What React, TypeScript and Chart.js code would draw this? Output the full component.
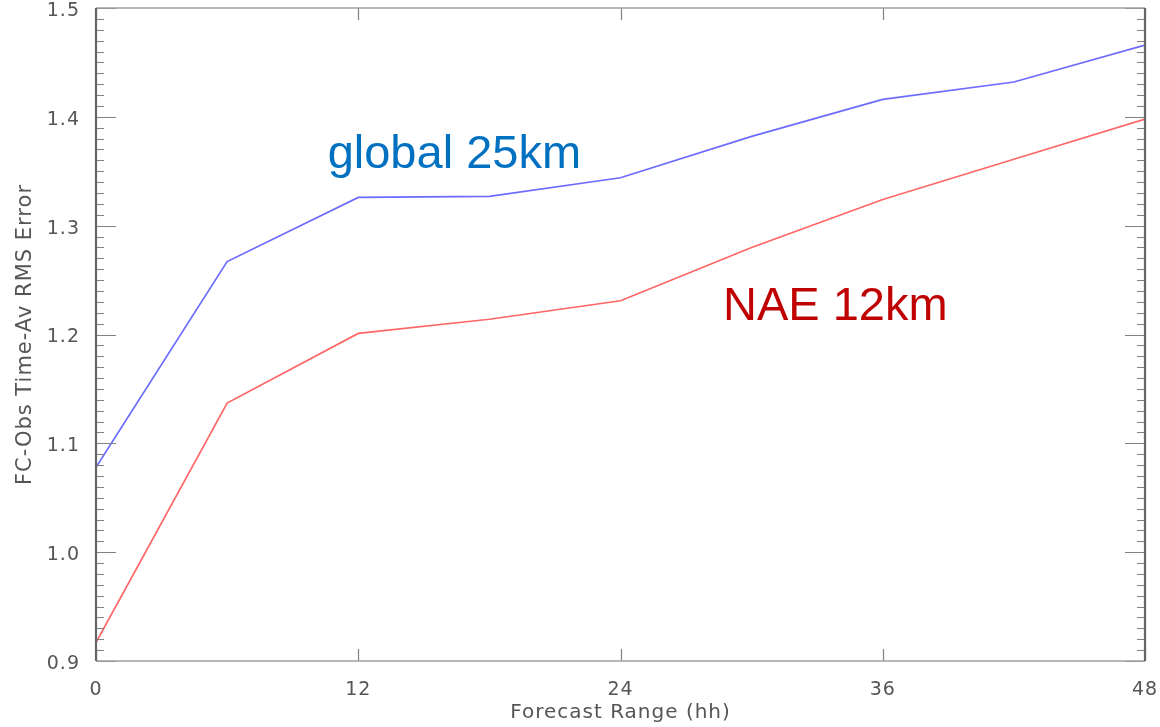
import React, { useEffect, useRef } from "react";
import { Chart, registerables } from "chart.js";

Chart.register(...registerables);

const hours = [0, 6, 12, 18, 24, 30, 36, 42, 48];
const globalRms = [1.078, 1.267, 1.326, 1.327, 1.344, 1.382, 1.416, 1.432, 1.466];
const naeRms = [0.917, 1.137, 1.201, 1.214, 1.231, 1.28, 1.324, 1.361, 1.398];
const xMajorTicks = [0, 12, 24, 36, 48];
const yMin = 0.9;
const yMax = 1.5;
const yLabelText = "FC-Obs Time-Av RMS Error";
const xLabelText = "Forecast Range (hh)";
const annotations = [
  { text: "global 25km", x: 10.6, y: 1.353, color: "#0070C0" },
  { text: "NAE 12km", x: 28.69, y: 1.2136, color: "#C00000" },
];

const framePlugin = {
  id: "idlFrame",
  beforeDraw(chart: any) {
    (chart.ctx as any).letterSpacing = "1px";
  },
  afterDraw(chart: any) {
    const ctx = chart.ctx as CanvasRenderingContext2D;
    const { left, right, top, bottom } = chart.chartArea;
    const xs = chart.scales.x;
    const ys = chart.scales.y;
    ctx.save();
    (ctx as any).letterSpacing = "0px";
    ctx.strokeStyle = "#808080";
    ctx.lineWidth = 1.2;
    const n = Math.round((yMax - yMin) / 0.01);
    for (let i = 0; i <= n; i++) {
      const v = yMin + i * 0.01;
      const py = Math.round(ys.getPixelForValue(v)) + 0.5;
      const len = i % 10 === 0 ? 20 : 8;
      ctx.beginPath();
      ctx.moveTo(left, py);
      ctx.lineTo(left + len, py);
      ctx.moveTo(right, py);
      ctx.lineTo(right - len, py);
      ctx.stroke();
    }
    for (const t of xMajorTicks) {
      const px = Math.round(xs.getPixelForValue(t)) + 0.5;
      ctx.beginPath();
      ctx.moveTo(px, bottom);
      ctx.lineTo(px, bottom - 12);
      ctx.moveTo(px, top);
      ctx.lineTo(px, top + 12);
      ctx.stroke();
    }
    ctx.strokeStyle = "#a0a0a0";
    ctx.lineWidth = 1.5;
    ctx.beginPath();
    ctx.moveTo(left, top);
    ctx.lineTo(right, top);
    ctx.moveTo(left, bottom);
    ctx.lineTo(right, bottom);
    ctx.stroke();
    ctx.strokeStyle = "#666";
    ctx.lineWidth = 2.2;
    ctx.beginPath();
    ctx.moveTo(left, top);
    ctx.lineTo(left, bottom);
    ctx.moveTo(right, top);
    ctx.lineTo(right, bottom);
    ctx.stroke();
    ctx.font = '47px "Liberation Sans", Arial, sans-serif';
    ctx.textAlign = "left";
    ctx.textBaseline = "alphabetic";
    for (const a of annotations) {
      ctx.fillStyle = a.color;
      ctx.fillText(a.text, xs.getPixelForValue(a.x), ys.getPixelForValue(a.y));
    }
    ctx.restore();
  },
};

export default function App() {
  const ref = useRef<HTMLCanvasElement>(null);
  useEffect(() => {
    document.body.style.margin = "0";
    const chart = new Chart(ref.current!, {
      type: "line",
      data: {
        datasets: [
          {
            label: "global 25km",
            data: hours.map((h, i) => ({ x: h, y: globalRms[i] })),
            borderColor: "#6b6bff",
            borderWidth: 1.7,
            pointRadius: 0,
            tension: 0,
            fill: false,
          },
          {
            label: "NAE 12km",
            data: hours.map((h, i) => ({ x: h, y: naeRms[i] })),
            borderColor: "#ff6666",
            borderWidth: 1.7,
            pointRadius: 0,
            tension: 0,
            fill: false,
          },
        ],
      },
      options: {
        animation: false,
        responsive: false,
        devicePixelRatio: 1,
        layout: { padding: { top: 8, right: 15, left: 0, bottom: 0 }, autoPadding: false },
        plugins: { legend: { display: false }, tooltip: { enabled: false } },
        scales: {
          x: {
            type: "linear",
            min: 0,
            max: 48,
            grid: { display: false },
            border: { display: false },
            afterBuildTicks: (s: any) => {
              s.ticks = xMajorTicks.map((v) => ({ value: v }));
            },
            ticks: {
              padding: 10,
              color: "#555",
              font: { family: '"DejaVu Sans", sans-serif', size: 19 },
              maxRotation: 0,
              callback: (v: any) => String(v),
            },
            title: {
              display: true,
              text: xLabelText,
              color: "#555",
              font: { family: '"DejaVu Sans", sans-serif', size: 20 },
              padding: { top: 0, bottom: 2 },
            },
            afterFit: (s: any) => {
              s.height = 66;
              s.paddingLeft = 0;
              s.paddingRight = 0;
            },
          },
          y: {
            type: "linear",
            min: yMin,
            max: yMax,
            grid: { display: false },
            border: { display: false },
            ticks: {
              stepSize: 0.1,
              padding: 8,
              labelOffset: 3,
              color: "#555",
              font: { family: '"DejaVu Sans", sans-serif', size: 19 },
              callback: (v: any) => Number(v).toFixed(1),
            },
            title: {
              display: true,
              text: yLabelText,
              color: "#555",
              font: { family: '"DejaVu Sans", sans-serif', size: 21 },
              padding: { top: 13, bottom: 0 },
            },
            afterFit: (s: any) => {
              s.width = 96;
              s.paddingTop = 0;
              s.paddingBottom = 0;
            },
          },
        },
      },
      plugins: [framePlugin],
    });
    return () => chart.destroy();
  }, []);
  return (
    <div style={{ position: "absolute", left: 0, top: 0, width: 1160, height: 727, background: "#fff" }}>
      <canvas ref={ref} width={1160} height={727} />
    </div>
  );
}
